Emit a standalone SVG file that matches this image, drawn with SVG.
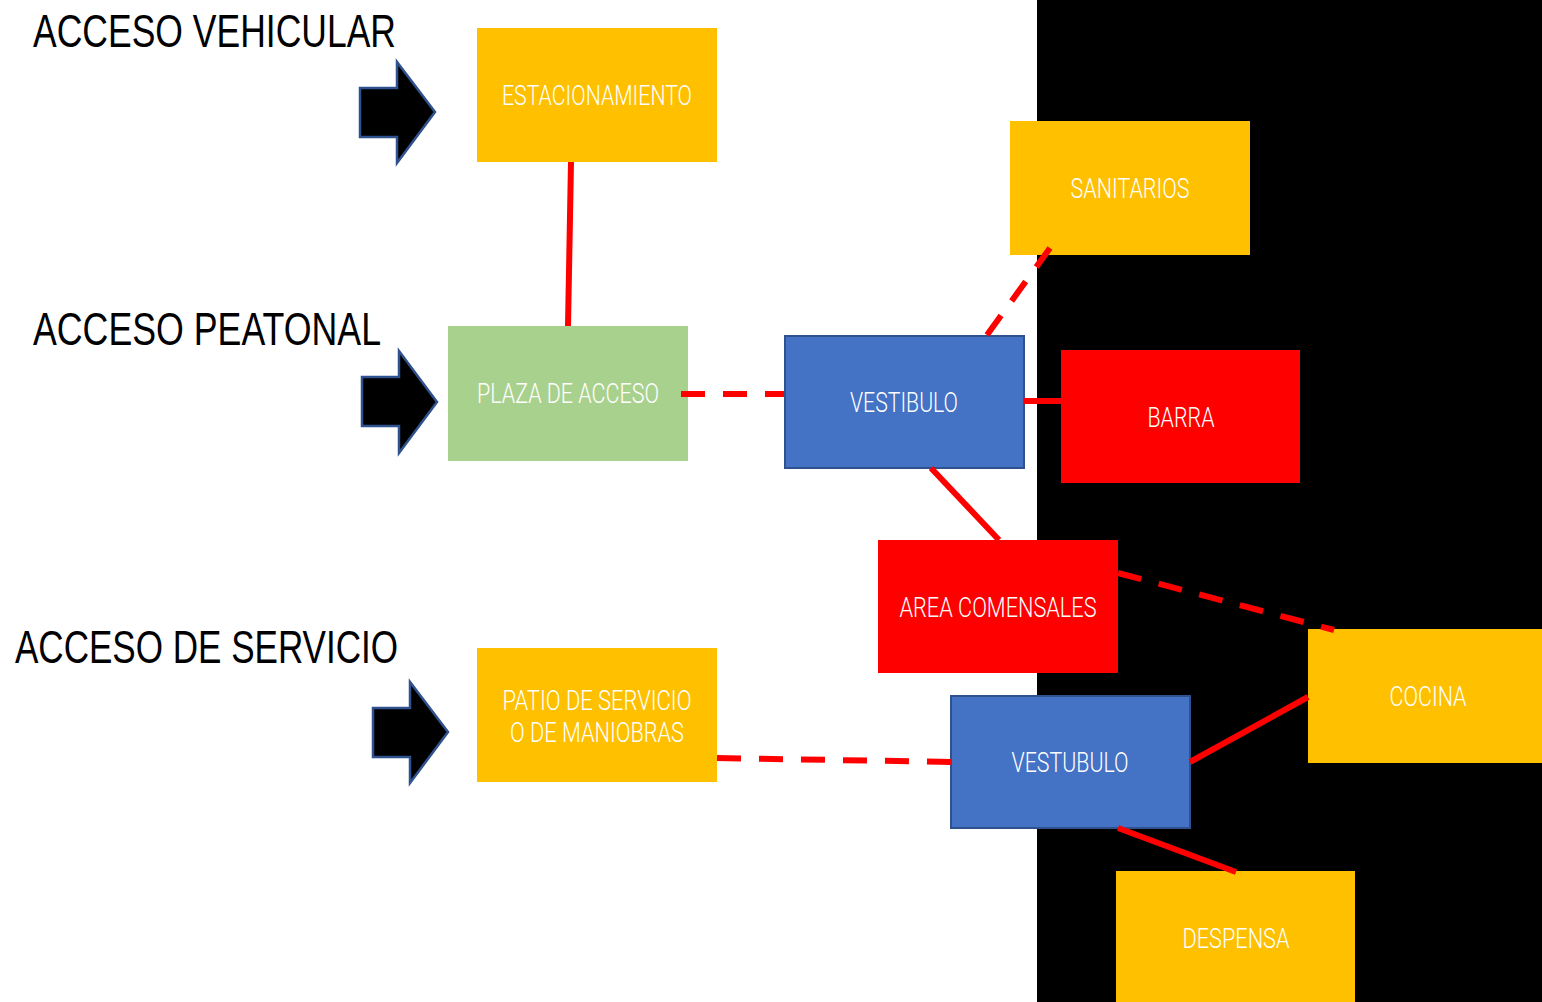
<svg xmlns="http://www.w3.org/2000/svg" width="1542" height="1002" viewBox="0 0 1542 1002">
<style>
.title{font-family:"Liberation Sans",Arial,sans-serif;font-size:47px;fill:#000}
.lbl{font-family:Roboto,"Liberation Sans",Arial,sans-serif;font-weight:300;font-size:27px;fill:#fff;text-anchor:middle}
.arrow{fill:#000;stroke:#2F528F;stroke-width:2.5}
.c{stroke:#FF0000;stroke-width:6;fill:none}
.d{stroke:#FF0000;stroke-width:6;fill:none;stroke-dasharray:24 18}
.y{fill:#FFC000}
.r{fill:#FF0000}
.b{fill:#4472C4;stroke:#2F528F;stroke-width:2}
.g{fill:#A9D18E}
</style>
<rect x="0" y="0" width="1542" height="1002" fill="#fff"/>
<rect x="1037" y="0" width="505" height="1002" fill="#000"/>
<g id="titles">
<text class="title" x="33" y="47" textLength="363" lengthAdjust="spacingAndGlyphs">ACCESO VEHICULAR</text>
<text class="title" x="33" y="345" textLength="348" lengthAdjust="spacingAndGlyphs">ACCESO PEATONAL</text>
<text class="title" x="15" y="663" textLength="383" lengthAdjust="spacingAndGlyphs">ACCESO DE SERVICIO</text>
</g>
<g id="arrows">
<polygon class="arrow" points="360,88 397,88 397,62 435,112 397,163 397,137 360,137"/>
<polygon class="arrow" points="362,377 399,377 399,351 437,402 399,453 399,426 362,426"/>
<polygon class="arrow" points="373,708 410,708 410,682 448,732 410,783 410,757 373,757"/>
</g>
<g id="estacionamiento">
<rect class="y" x="477" y="28" width="240" height="134"/>
<text class="lbl" x="597" y="105" textLength="190" lengthAdjust="spacingAndGlyphs">ESTACIONAMIENTO</text>
</g>
<g id="plaza">
<rect class="g" x="448" y="326" width="240" height="135"/>
<text class="lbl" x="568" y="403" textLength="182" lengthAdjust="spacingAndGlyphs">PLAZA DE ACCESO</text>
</g>
<g id="vestibulo">
<rect class="b" x="785" y="336" width="239" height="132"/>
<text class="lbl" x="904" y="412" textLength="108" lengthAdjust="spacingAndGlyphs">VESTIBULO</text>
</g>
<g id="sanitarios">
<rect class="y" x="1010" y="121" width="240" height="134"/>
<text class="lbl" x="1130" y="198" textLength="119" lengthAdjust="spacingAndGlyphs">SANITARIOS</text>
</g>
<g id="barra">
<rect class="r" x="1061" y="350" width="239" height="133"/>
<text class="lbl" x="1181" y="427" textLength="67" lengthAdjust="spacingAndGlyphs">BARRA</text>
</g>
<g id="comensales">
<rect class="r" x="878" y="540" width="240" height="133"/>
<text class="lbl" x="998" y="617" textLength="197" lengthAdjust="spacingAndGlyphs">AREA COMENSALES</text>
</g>
<g id="cocina">
<rect class="y" x="1308" y="629" width="234" height="134"/>
<text class="lbl" x="1428" y="706" textLength="77" lengthAdjust="spacingAndGlyphs">COCINA</text>
</g>
<g id="patio">
<rect class="y" x="477" y="648" width="240" height="134"/>
<text class="lbl" x="597" y="710" textLength="189" lengthAdjust="spacingAndGlyphs">PATIO DE SERVICIO</text>
<text class="lbl" x="597" y="742" textLength="174" lengthAdjust="spacingAndGlyphs">O DE MANIOBRAS</text>
</g>
<g id="vestubulo">
<rect class="b" x="951" y="696" width="239" height="132"/>
<text class="lbl" x="1070" y="772" textLength="117" lengthAdjust="spacingAndGlyphs">VESTUBULO</text>
</g>
<g id="despensa">
<rect class="y" x="1116" y="871" width="239" height="131"/>
<text class="lbl" x="1236" y="948" textLength="107" lengthAdjust="spacingAndGlyphs">DESPENSA</text>
</g>
<g id="connectors">
<line class="c" x1="571" y1="162" x2="568" y2="326"/>
<line class="d" x1="681" y1="394" x2="784" y2="394"/>
<line class="d" x1="987" y1="335" x2="1050" y2="248"/>
<line class="c" x1="1024" y1="401" x2="1061" y2="401"/>
<line class="c" x1="931" y1="468" x2="999" y2="540"/>
<line class="d" x1="1118" y1="573" x2="1334" y2="630"/>
<line class="d" x1="717" y1="758" x2="951" y2="762"/>
<line class="c" x1="1190" y1="762" x2="1308" y2="697"/>
<line class="c" x1="1118" y1="828" x2="1236" y2="872"/>
</g>
</svg>
